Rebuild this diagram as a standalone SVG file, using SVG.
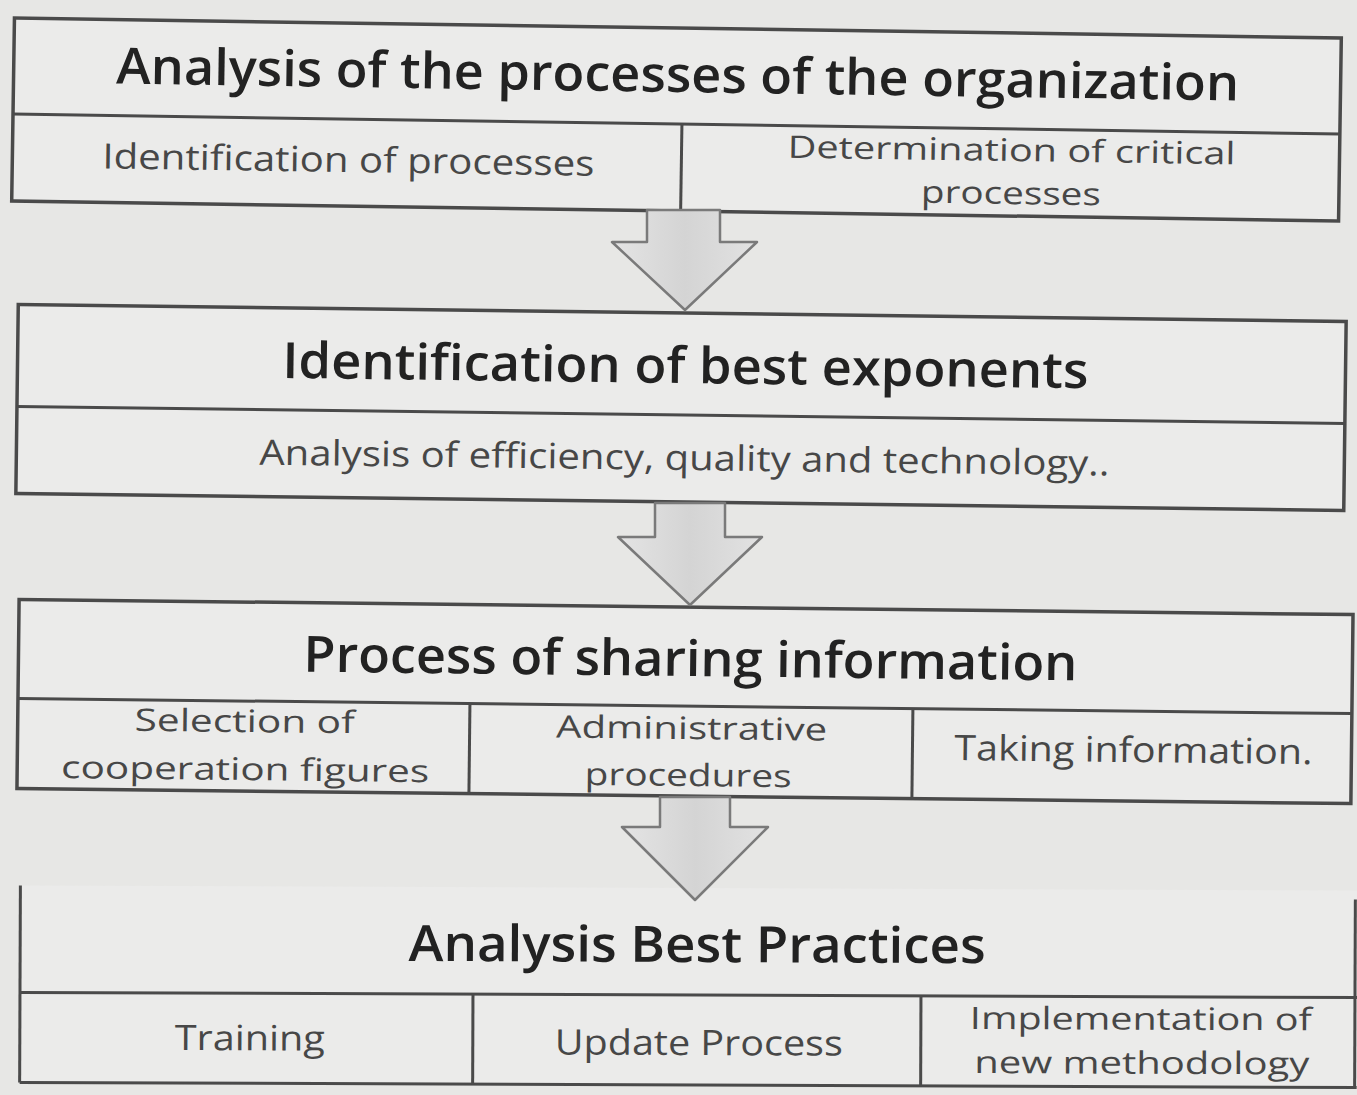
<svg xmlns="http://www.w3.org/2000/svg" width="1357" height="1095" viewBox="0 0 1357 1095">
<defs>
<style>
.bg{fill:#e7e7e5}
.box{fill:#ebebea;stroke:#4a4a4a;stroke-width:3.5}
.ln{stroke:#4a4a4a;stroke-width:3;fill:none}
.h{font-family:"Open Sans","Liberation Sans",sans-serif;font-weight:600;font-size:50px;fill:#222;text-anchor:middle}
.s{font-family:"Open Sans","Liberation Sans",sans-serif;font-weight:400;font-size:35px;fill:#474747;text-anchor:middle}
.s2{font-size:31px}
.arr{fill:url(#ag);stroke:#7a7a7a;stroke-width:2.5;stroke-linejoin:round}
</style>
<linearGradient id="ag" x1="0" y1="0" x2="1" y2="0">
<stop offset="0" stop-color="#e4e4e4"/>
<stop offset="0.5" stop-color="#d4d4d4"/>
<stop offset="1" stop-color="#e2e2e2"/>
</linearGradient>
</defs>
<rect class="bg" x="0" y="0" width="1357" height="1095"/>

<g id="node-analysis-processes" transform="rotate(0.86 677 120)">
<rect class="box" x="13" y="28" width="1327" height="183"/>
<line class="ln" x1="13" y1="124" x2="1340" y2="124"/>
<line class="ln" x1="682" y1="124" x2="682" y2="211"/>
<text class="h" x="677" y="92" textLength="1123" lengthAdjust="spacingAndGlyphs">Analysis of the processes of the organization</text>
<g id="cell-identification-processes">
<text class="s" x="349" y="177" textLength="492" lengthAdjust="spacingAndGlyphs">Identification of processes</text>
</g>
<g id="cell-critical-processes">
<text class="s s2" x="1012" y="156" textLength="448" lengthAdjust="spacingAndGlyphs">Determination of critical</text>
<text class="s s2" x="1012" y="199" textLength="180" lengthAdjust="spacingAndGlyphs">processes</text>
</g>
</g>

<g id="node-best-exponents" transform="rotate(0.73 681 408)">
<rect class="box" x="17" y="313" width="1328" height="189"/>
<line class="ln" x1="17" y1="415" x2="1345" y2="415"/>
<text class="h" x="685" y="383" textLength="806" lengthAdjust="spacingAndGlyphs">Identification of best exponents</text>
<g id="cell-efficiency">
<text class="s" x="685" y="470" textLength="850" lengthAdjust="spacingAndGlyphs">Analysis of efficiency, quality and technology..</text>
</g>
</g>

<g id="node-sharing-information" transform="rotate(0.65 684 700)">
<rect class="box" x="18" y="607" width="1334" height="189"/>
<line class="ln" x1="18" y1="706" x2="1352" y2="706"/>
<line class="ln" x1="470" y1="706" x2="470" y2="796"/>
<line class="ln" x1="913" y1="706" x2="913" y2="796"/>
<text class="h" x="690" y="676" textLength="774" lengthAdjust="spacingAndGlyphs">Process of sharing information</text>
<g id="cell-selection">
<text class="s s2" x="245" y="737" textLength="220" lengthAdjust="spacingAndGlyphs">Selection of</text>
<text class="s s2" x="246" y="785" textLength="368" lengthAdjust="spacingAndGlyphs">cooperation figures</text>
</g>
<g id="cell-administrative">
<text class="s s2" x="692" y="739" textLength="271" lengthAdjust="spacingAndGlyphs">Administrative</text>
<text class="s s2" x="689" y="786" textLength="207" lengthAdjust="spacingAndGlyphs">procedures</text>
</g>
<g id="cell-taking">
<text class="s" x="1134" y="757" textLength="358" lengthAdjust="spacingAndGlyphs">Taking information.</text>
</g>
</g>

<g id="node-best-practices" transform="rotate(0.22 688 990)">
<rect x="20" y="888" width="1340" height="197" fill="#ebebea" stroke="none"/>
<line class="ln" x1="20" y1="888" x2="20" y2="1085"/>
<line class="ln" x1="1355" y1="897" x2="1355" y2="1085"/>
<line class="ln" x1="20" y1="995" x2="1357" y2="995"/>
<line class="ln" x1="20" y1="1085" x2="1357" y2="1085"/>
<line class="ln" x1="473" y1="995" x2="473" y2="1085"/>
<line class="ln" x1="921" y1="995" x2="921" y2="1085"/>
<text class="h" x="697" y="962" textLength="577" lengthAdjust="spacingAndGlyphs">Analysis Best Practices</text>
<g id="cell-training">
<text class="s" x="250" y="1052" textLength="150" lengthAdjust="spacingAndGlyphs">Training</text>
</g>
<g id="cell-update">
<text class="s" x="699" y="1055" textLength="288" lengthAdjust="spacingAndGlyphs">Update Process</text>
</g>
<g id="cell-implementation">
<text class="s s2" x="1141" y="1028" textLength="342" lengthAdjust="spacingAndGlyphs">Implementation of</text>
<text class="s s2" x="1142" y="1072" textLength="335" lengthAdjust="spacingAndGlyphs">new methodology</text>
</g>
</g>

<g id="connectors">
<path class="arr" d="M647,210 L720,210 L720,242 L757,242 L685,310 L612,242 L647,242 Z"/>
<path class="arr" d="M655,503 L725,503 L725,537 L762,537 L690,605 L618,537 L655,537 Z"/>
<path class="arr" d="M660,797 L730,797 L730,827 L768,827 L695,900 L622,827 L660,827 Z"/>
</g>
</svg>
